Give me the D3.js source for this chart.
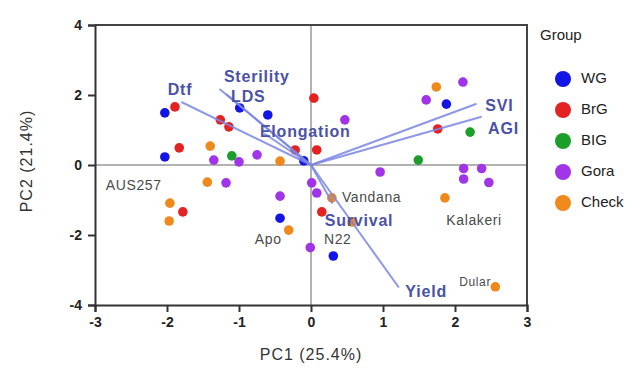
<!DOCTYPE html>
<html lang="en">
<head>
<meta charset="UTF-8">
<title>PCA biplot</title>
<script src="https://d3js.org/d3.v7.min.js"></script>
<style>
    body { margin: 0; background: #fff; font-family: "Liberation Sans", Arial, sans-serif; }
    .tick-label { font-size: 14px; font-weight: bold; fill: #222; }
    .axis-title { font-size: 16px; fill: #333; letter-spacing: 1px; }
    .load-label { font-size: 16px; font-weight: bold; fill: #4a52a8; letter-spacing: 0.8px; }
    .geno-label { font-size: 14px; fill: #4a4a4a; letter-spacing: 0.6px; }
    .legend-text { font-size: 15px; fill: #222; }
</style>
</head>
<body>
<div id="chart"></div>
<script>
    // scores per group (PC1, PC2)
    const wgPoints = [[-2.03,1.49],[-2.03,0.23],[-0.99,1.63],[-0.6,1.43],[-0.1,0.12],[-0.43,-1.52],[0.31,-2.6],[1.88,1.74]];
    const brgPoints = [[-1.89,1.66],[-1.26,1.29],[-1.14,1.09],[-1.83,0.49],[-0.22,0.43],[0.04,1.91],[0.08,0.43],[1.76,1.03],[-1.78,-1.34],[0.15,-1.34]];
    const bigPoints = [[-1.1,0.26],[1.49,0.14],[2.21,0.94]];
    const goraPoints = [[-1.35,0.14],[-1.0,0.09],[-0.75,0.29],[0.47,1.29],[0.96,-0.2],[2.11,2.37],[1.6,1.86],[2.12,-0.1],[2.37,-0.1],[2.12,-0.4],[2.47,-0.5],[0.01,-0.51],[0.08,-0.8],[-0.01,-2.36],[-1.18,-0.51],[-0.43,-0.89]];
    const checkPoints = [[-1.4,0.54],[-0.43,0.11],[1.74,2.23],[-1.44,-0.49],[-1.96,-1.09],[-1.97,-1.6],[-0.31,-1.86],[0.29,-0.94],[1.86,-0.94],[2.56,-3.48],[0.57,-1.63]];

    const groupNames = ["WG", "BrG", "BIG", "Gora", "Check"];
    const groupColors = ["#1414e6", "#e42222", "#1c9e2a", "#a034e6", "#f0891c"];
    const groupPoints = [wgPoints, brgPoints, bigPoints, goraPoints, checkPoints];

    // loadings: name, end point, label anchor
    const loadNames = ["Dtf", "Sterility", "LDS", "Elongation", "SVI", "AGI", "Yield", "Survival"];
    const loadEnds = [[-1.8,1.8],[-1.27,2.17],[-1.18,2.03],[-0.65,0.9],[2.3,1.75],[2.37,1.38],[1.22,-3.5],[0.3,-1.1]];
    const loadLabelPos = [[-1.99,2.11],[-1.21,2.49],[-1.11,1.91],[-0.71,0.91],[2.42,1.66],[2.46,1.0],[1.31,-3.66],[0.19,-1.63]];

    const genoNames = ["AUS257", "Apo", "N22", "Vandana", "Kalakeri", "Dular"];
    const genoPos = [[-2.85,-0.6],[-0.78,-2.14],[0.18,-2.14],[0.43,-0.94],[1.88,-1.6],[2.06,-3.37]];

    const xTicks = [-3, -2, -1, 0, 1, 2, 3];
    const yTicks = [4, 2, 0, -2, -4];

    const width = 643, height = 380;
    const svg = d3.select("#chart").append("svg")
        .attr("width", width).attr("height", height);

    const x = d3.scaleLinear().domain([-3, 3]).range([95, 527]);
    const y = d3.scaleLinear().domain([-4, 4]).range([305, 25]);

    // zero lines
    svg.append("line").attr("x1", x(-3)).attr("x2", x(3)).attr("y1", y(0)).attr("y2", y(0))
        .attr("stroke", "#999").attr("stroke-width", 1.5);
    svg.append("line").attr("x1", x(0)).attr("x2", x(0)).attr("y1", y(4)).attr("y2", y(-4))
        .attr("stroke", "#999").attr("stroke-width", 1.5);

    // frame top/right
    svg.append("path")
        .attr("d", `M${x(-3)},${y(4)}H${x(3)}V${y(-4)}`)
        .attr("fill", "none").attr("stroke", "#444").attr("stroke-width", 2);

    // axes, plain hyphen minus on labels
    const fmt = d => String(d);
    const xAxis = svg.append("g").attr("transform", `translate(0,${y(-4)})`)
        .call(d3.axisBottom(x).tickValues(xTicks).tickFormat(fmt).tickSize(7).tickPadding(5));
    const yAxis = svg.append("g").attr("transform", `translate(${x(-3)},0)`)
        .call(d3.axisLeft(y).tickValues(yTicks).tickFormat(fmt).tickSize(7).tickPadding(6));
    [xAxis, yAxis].forEach(g => {
        g.select(".domain").attr("stroke", "#333").attr("stroke-width", 2);
        g.selectAll(".tick line").attr("stroke", "#333").attr("stroke-width", 2);
        g.selectAll(".tick text").attr("class", "tick-label").attr("font-family", null).attr("font-size", null);
    });

    // axis titles
    svg.append("text").attr("class", "axis-title")
        .attr("x", x(0)).attr("y", 360).attr("text-anchor", "middle").text("PC1 (25.4%)");
    svg.append("text").attr("class", "axis-title")
        .attr("transform", `translate(28,${y(0) - 4}) rotate(-90)`)
        .attr("text-anchor", "middle").attr("dominant-baseline", "middle").text("PC2 (21.4%)");

    // points
    groupPoints.forEach((pts, gi) => {
        svg.append("g").selectAll("circle").data(pts).enter().append("circle")
            .attr("cx", d => x(d[0])).attr("cy", d => y(d[1])).attr("r", 4.8)
            .attr("fill", groupColors[gi]);
    });

    // loading vectors
    svg.append("g").selectAll("line").data(loadEnds).enter().append("line")
        .attr("x1", x(0)).attr("y1", y(0))
        .attr("x2", d => x(d[0])).attr("y2", d => y(d[1]))
        .attr("stroke", "#7c86e4").attr("stroke-width", 2).attr("opacity", 0.85);

    svg.append("g").selectAll("text").data(loadNames).enter().append("text")
        .attr("class", "load-label")
        .attr("x", (d, i) => x(loadLabelPos[i][0])).attr("y", (d, i) => y(loadLabelPos[i][1]))
        .attr("dominant-baseline", "middle").text(d => d);

    // genotype labels
    svg.append("g").selectAll("text").data(genoNames).enter().append("text")
        .attr("class", "geno-label")
        .attr("x", (d, i) => x(genoPos[i][0])).attr("y", (d, i) => y(genoPos[i][1]))
        .attr("dominant-baseline", "middle")
        .style("font-size", d => d === "Dular" ? "12px" : null)
        .text(d => d);

    // legend
    const legend = svg.append("g");
    legend.append("text").attr("class", "legend-text").attr("x", 540).attr("y", 36)
        .attr("dominant-baseline", "middle").text("Group");
    groupNames.forEach((name, i) => {
        const ly = 79 + i * 31;
        legend.append("circle").attr("cx", 563).attr("cy", ly).attr("r", 8).attr("fill", groupColors[i]);
        legend.append("text").attr("class", "legend-text").attr("x", 581).attr("y", ly)
            .attr("dominant-baseline", "middle").text(name);
    });
</script>
</body>
</html>
